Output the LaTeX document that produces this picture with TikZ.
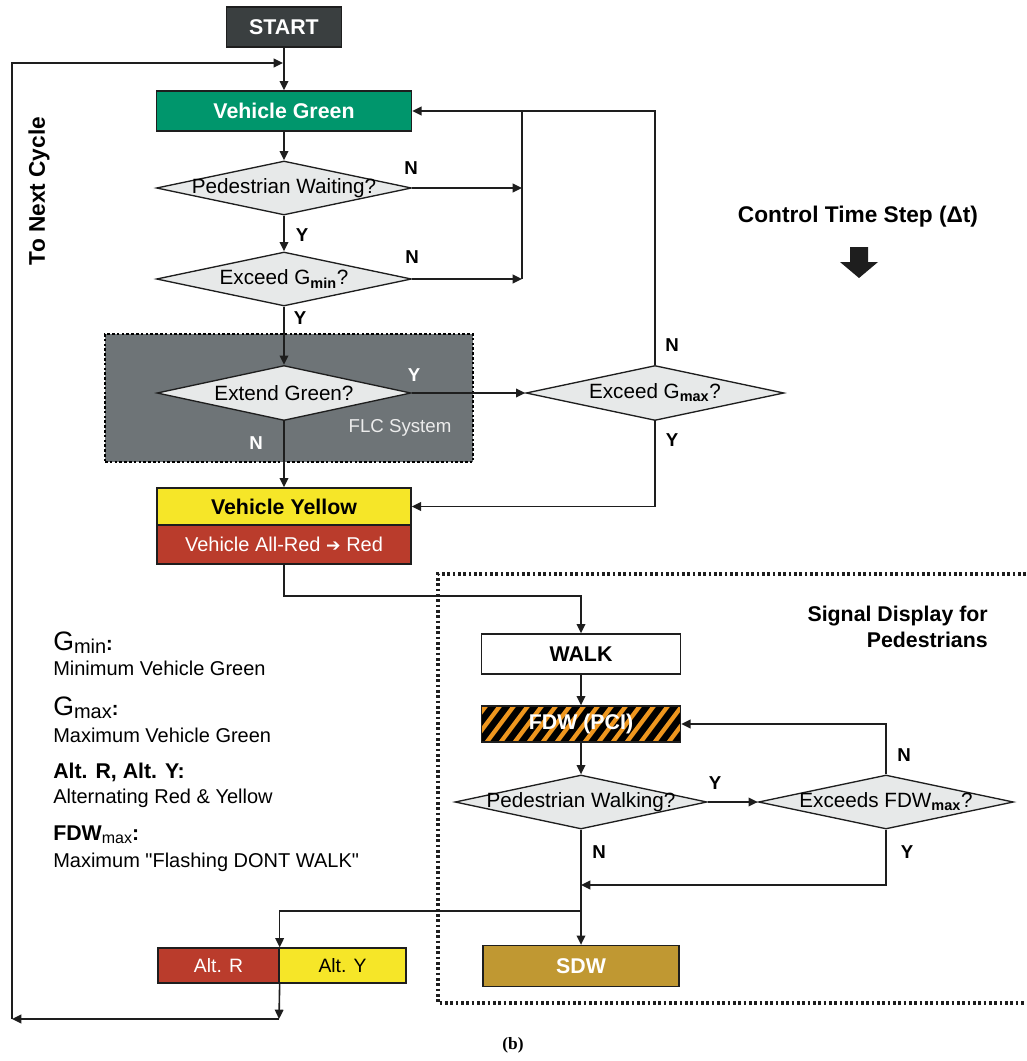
\documentclass[tikz,border=0pt]{standalone}
\usepackage{fontspec}
\setmainfont{Liberation Sans}
\newfontfamily\capfont{Liberation Serif}
\newfontfamily\dvs{DejaVu Sans}
\newfontfamily\qfont{Liberation Sans}[Ligatures=TeXOff]
\usetikzlibrary{shapes.geometric,arrows.meta}
\definecolor{lc}{RGB}{30,30,30}
\definecolor{startc}{RGB}{58,63,64}
\definecolor{greenc}{RGB}{0,150,108}
\definecolor{diac}{RGB}{231,233,233}
\definecolor{flcc}{RGB}{110,116,119}
\definecolor{yelc}{RGB}{246,230,40}
\definecolor{redc}{RGB}{186,60,44}
\definecolor{sdwc}{RGB}{192,152,50}
\definecolor{orc}{RGB}{238,150,30}
\begin{document}
\begin{tikzpicture}[x=0.75pt,y=-0.75pt,
  ln/.style={line width=1.2pt, draw=lc},
  arr/.style={ln, -{Triangle[length=7pt,width=6.5pt]}},
  wd/.style={minimum width=#1*0.75pt},
  ht/.style={minimum height=#1*0.75pt},
  box/.style={rectangle, draw=lc, line width=1pt, inner sep=0pt, font=\bfseries\fontsize{16}{18}\selectfont},
  rbox/.style={rectangle, draw=lc, line width=1pt, inner sep=0pt, font=\fontsize{15}{17}\selectfont},
  dia/.style={diamond, draw=lc, line width=1pt, fill=diac, inner sep=0pt, aspect=1, font=\fontsize{15.5}{17}\selectfont},
  yn/.style={font=\bfseries\fontsize{14}{16}\selectfont, inner sep=0pt},
  leg/.style={anchor=base west, inner sep=0pt, font=\fontsize{15}{17}\selectfont},
  legh/.style={anchor=base west, inner sep=0pt, font=\bfseries\fontsize{16}{18}\selectfont},
]
\path[use as bounding box] (0,0) rectangle (1026,1061);

% FLC system background
\node[draw=black, fill=flcc, line width=2.2pt, dash pattern=on 2pt off 1.6pt, inner sep=0pt, wd=368, ht=128] (flc) at (289,398) {};
\node[font=\fontsize{14}{16}\selectfont, text=gray!15, inner sep=0pt] (flct) at (400,428) {FLC System};

% Pedestrian region
\draw[lc, line width=2.4pt, dash pattern=on 2pt off 2pt] (1026,574) -- (438,574) -- (438,1003) -- (1026,1003);
\node[font=\bfseries\fontsize{16}{19}\selectfont, align=right, anchor=east, inner sep=0pt] (sig) at (988,627) {Signal Display for\\Pedestrians};

% Nodes
\node[box, fill=startc, text=white, wd=115, ht=40] (start) at (284,27) {START};
\node[box, fill=greenc, text=white, wd=255, ht=40] (vg) at (284,111) {Vehicle Green};
\node[dia, wd=255, ht=54] (pw) at (284,188) {\makebox[0pt]{Pedestrian Waiting?}};
\node[dia, wd=255, ht=54] (eg) at (284,279) {\makebox[0pt]{Exceed G\textsubscript{\textbf{min}}?}};
\node[dia, wd=254, ht=55] (ext) at (284,393) {\makebox[0pt]{Extend Green?}};
\node[dia, wd=258, ht=55] (egm) at (655,393) {\makebox[0pt]{Exceed G\textsubscript{\textbf{max}}?}};
\node[box, fill=yelc, wd=254, ht=37] (vy) at (284,506.5) {Vehicle Yellow};
\node[rbox, fill=redc, text=white, wd=254, ht=39] (vr) at (284,544.5) {Vehicle All-Red {\dvs\fontsize{13}{15}\selectfont ➔} Red};

\node[box, fill=white, wd=199, ht=40] (walk) at (581,654) {WALK};
\node[box, fill=black, text=white, wd=199, ht=36,
  path picture={\foreach \i in {-3,...,20}{\draw[orc, line width=3.2pt] (path picture bounding box.south west) ++(\i*10.5pt-8pt,-2pt) -- ++(24pt,32pt);}}] (fdw) at (581,724) {FDW (PCI)};
\node[dia, wd=252, ht=54] (pwk) at (581,802) {\makebox[0pt]{Pedestrian Walking?}};
\node[dia, wd=255, ht=54] (ef) at (886,802) {\makebox[0pt]{Exceeds FDW\textsubscript{\textbf{max}}?}};
\node[box, fill=sdwc, text=white, wd=196, ht=41] (sdw) at (581,966) {SDW};
\node[rbox, fill=redc, text=white, wd=121, ht=35, font=\fontsize{14.5}{16}\selectfont] (altr) at (218.5,965.5) {Alt. R};
\node[rbox, fill=yelc, wd=127, ht=35, font=\fontsize{14.5}{16}\selectfont] (alty) at (342.5,965.5) {Alt. Y};

% coordinates
\coordinate (jpw) at (522,188);
\coordinate (jeg) at (522,279);
\coordinate (jtop) at (522,111);
\coordinate (t1) at (284,596);
\coordinate (ym) at (581,885);
\coordinate (sp) at (581,911);
\coordinate (bc) at (279,1019);
\coordinate (bl) at (12,1019);
\coordinate (tl) at (12,63);
\coordinate (mg) at (283,63);

% connectors
\draw[arr] (start) -- (vg);
\draw[arr] (vg) -- (pw);
\draw[arr] (pw) -- (eg);
\draw[arr] (eg) -- (ext);
\draw[arr] (ext) -- (vy);
\draw[arr] (pw.east) -- (jpw);
\draw[arr] (eg.east) -- (jeg);
\draw[ln] (jeg) -- (jtop);
\draw[arr] (egm.north) |- (vg.east);
\draw[arr] (ext.east) -- (egm.west);
\draw[arr] (egm.south) |- (vy.east);
\draw[arr] (vr.south) -- (t1) -| (walk.north);
\draw[arr] (walk) -- (fdw);
\draw[arr] (fdw) -- (pwk);
\draw[arr] (pwk.east) -- (ef.west);
\draw[arr] (ef.north) |- (fdw.east);
\draw[arr] (ef.south) |- (ym);
\draw[arr] (pwk.south) -- (sdw.north);
\draw[arr] (sp) -| (altr.north east);
\draw[arr] (altr.south east) -- (bc);
\draw[arr] (bc) -- (bl);
\draw[arr] (bl) -- (tl) -- (mg);

% Y/N labels
\node[yn] (n1) at (411,168) {N};
\node[yn] (y1) at (302,235) {Y};
\node[yn] (n2) at (412,257) {N};
\node[yn] (y2) at (300,318) {Y};
\node[yn, text=white] (y3) at (414,375) {Y};
\node[yn, text=white] (n3) at (256,443) {N};
\node[yn] (n4) at (672,345) {N};
\node[yn] (y4) at (672,440) {Y};
\node[yn] (y5) at (715,783) {Y};
\node[yn] (n5) at (904,755) {N};
\node[yn] (n6) at (599,852) {N};
\node[yn] (y6) at (907,852) {Y};

% Side text
\node[rotate=90, font=\bfseries\fontsize{17}{19}\selectfont, inner sep=0pt] (nextc) at (39,191) {To Next Cycle};
\node[font=\bfseries\fontsize{17}{19}\selectfont, inner sep=0pt] (cts) at (858,217) {Control Time Step (Δt)};
\fill[lc] (850,247) -- (868,247) -- (868,262) -- (878,262) -- (859,278) -- (840,262) -- (850,262) -- cycle;

% Legend
\node[leg] (l1) at (53,650) {{\fontsize{20}{22}\selectfont G}\raisebox{-0.3ex}{min}\textbf{:}};
\node[leg] (l1b) at (53,675) {Minimum Vehicle Green};
\node[leg] (l2) at (53,715) {{\fontsize{20}{22}\selectfont G}\raisebox{-0.3ex}{max}\textbf{:}};
\node[leg] (l2b) at (53,742) {Maximum Vehicle Green};
\node[legh] (l3) at (53,778) {Alt. R, Alt. Y:};
\node[leg] (l3b) at (53,803) {Alternating Red \& Yellow};
\node[legh] (l4) at (53,840) {FDW\raisebox{-0.3ex}{\mdseries\fontsize{12}{14}\selectfont max}:};
\node[leg] (l4b) at (53,867) {\qfont Maximum "Flashing DONT WALK"};

\node[font=\capfont\bfseries\fontsize{13}{15}\selectfont, inner sep=0pt] (cap) at (513,1045) {(b)};
\end{tikzpicture}
\end{document}
